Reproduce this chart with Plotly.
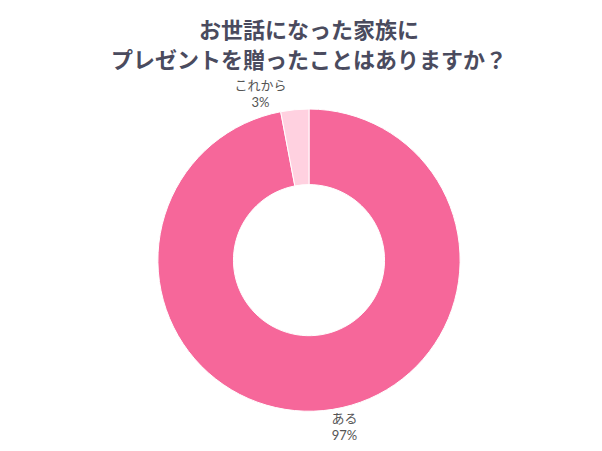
import plotly.graph_objects as go

labels = ["ある", "これから"]
values = [97, 3]
colors = ["#F6679A", "#FFD1E0"]
title_lines = ["お世話になった家族に", "プレゼントを贈ったことはありますか？"]

fig = go.Figure(go.Pie(
    labels=labels,
    values=values,
    hole=0.5,
    sort=False,
    direction="clockwise",
    rotation=0,
    marker=dict(colors=colors, line=dict(color="white", width=1)),
    texttemplate="%{label}<br>%{percent:.0%}",
    textposition="outside",
    textfont=dict(family="Lato, Noto Sans CJK JP", size=13, color="#555555"),
    showlegend=False,
    domain=dict(x=[0.249, 0.751], y=[0.0, 0.767]),
))

title_y = [22, 55]
annotations = [
    dict(text=t, x=0.5, xref="paper", xanchor="center",
         y=1 - yy / 451, yref="paper", yanchor="middle", showarrow=False,
         font=dict(family="Noto Sans CJK JP", size=22, color="#4A4B5E", weight="bold"))
    for t, yy in zip(title_lines, title_y)
]

fig.update_layout(
    width=602, height=451,
    margin=dict(l=0, r=0, t=0, b=0),
    paper_bgcolor="white",
    annotations=annotations,
)

fig.write_html("out.html")
